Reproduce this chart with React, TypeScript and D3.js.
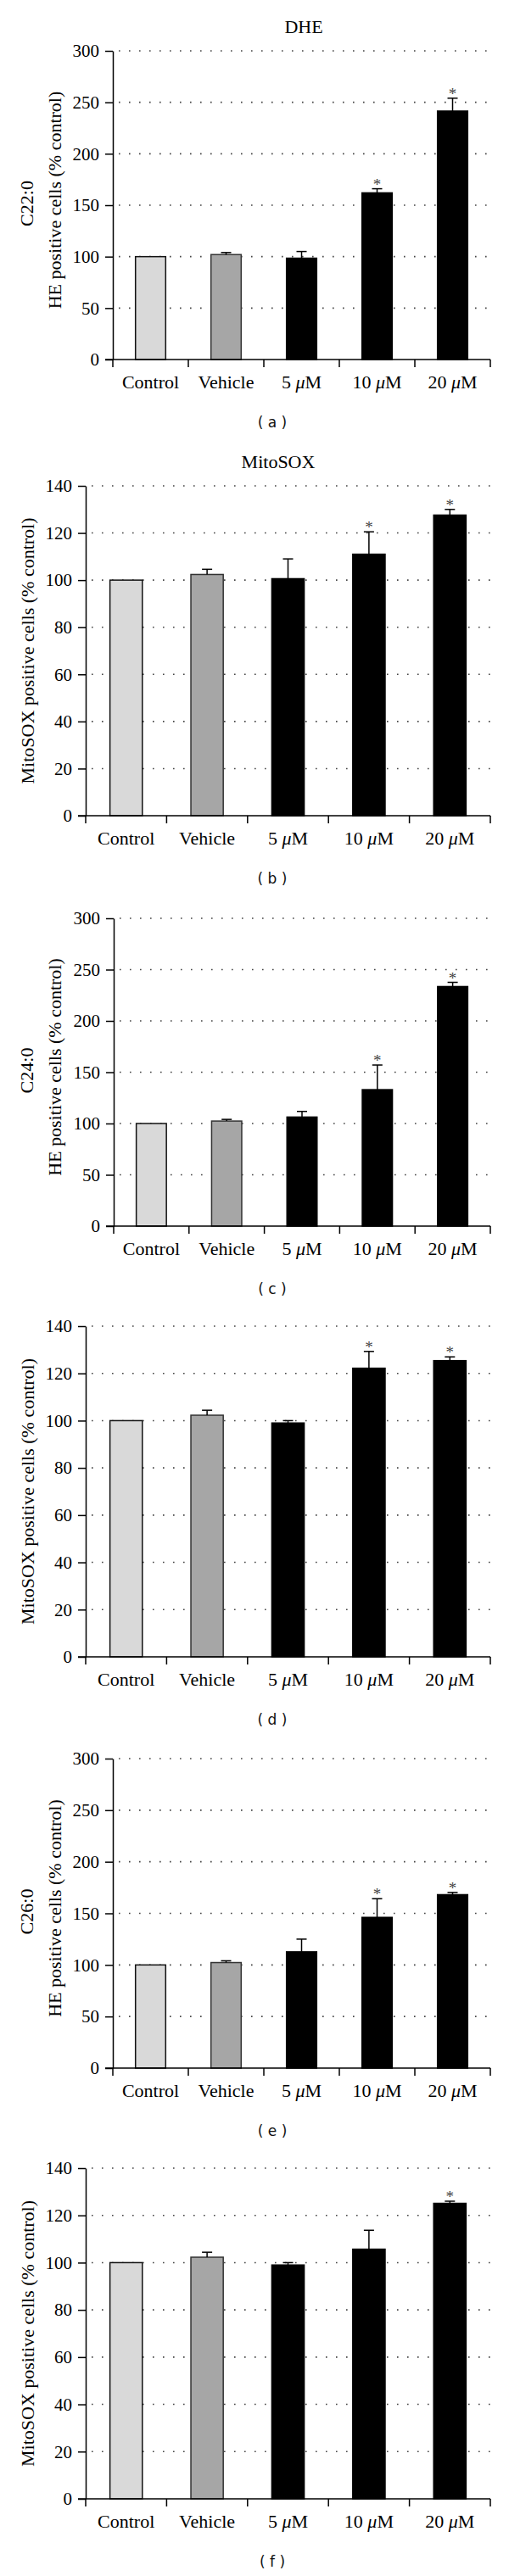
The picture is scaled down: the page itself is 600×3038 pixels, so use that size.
import React, { useEffect, useRef } from 'react';
import * as d3 from 'd3';

const categories = ['Control', 'Vehicle', '5 μM', '10 μM', '20 μM'];
const dheTicks = [0, 50, 100, 150, 200, 250, 300];
const mitoTicks = [0, 20, 40, 60, 80, 100, 120, 140];

const c22DheMean = [100, 102, 98.5, 162, 241.5];
const c22DheErr = [0, 2, 6.5, 4, 12.5];
const c22DheSig = [false, false, false, true, true];

const c22MitoMean = [100, 102.4, 100.6, 111, 127.6];
const c22MitoErr = [0, 2.2, 8.4, 9.5, 2.4];
const c22MitoSig = [false, false, false, true, true];

const c24DheMean = [100, 102.4, 106.3, 133, 233.5];
const c24DheErr = [0, 1.6, 5.5, 24, 4.1];
const c24DheSig = [false, false, false, true, true];

const c24MitoMean = [100, 102.3, 99, 122.2, 125.4];
const c24MitoErr = [0, 2.1, 1, 7.1, 1.6];
const c24MitoSig = [false, false, false, true, true];

const c26DheMean = [100, 102.3, 112.7, 146.1, 168.1];
const c26DheErr = [0, 1.7, 12.3, 18.1, 2.2];
const c26DheSig = [false, false, false, true, true];

const c26MitoMean = [100, 102.3, 99, 105.7, 125.1];
const c26MitoErr = [0, 2.1, 1, 8, 0.9];
const c26MitoSig = [false, false, false, false, true];

const barFills = ['#d9d9d9', '#a6a6a6', '#000000', '#000000', '#000000'];
const barStrokes = ['#111111', '#333333', '#000000', '#000000', '#000000'];

const panels = [
  { mean: c22DheMean, err: c22DheErr, sig: c22DheSig, ticks: dheTicks, top: 60, zero: 424, x0: 133, title: 'DHE', letter: '( a )', ylab: ['C22:0', 'HE positive cells (% control)'] },
  { mean: c22MitoMean, err: c22MitoErr, sig: c22MitoSig, ticks: mitoTicks, top: 573, zero: 962, x0: 101, title: 'MitoSOX', letter: '( b )', ylab: ['MitoSOX positive cells (% control)'] },
  { mean: c24DheMean, err: c24DheErr, sig: c24DheSig, ticks: dheTicks, top: 1083, zero: 1446, x0: 134, title: '', letter: '( c )', ylab: ['C24:0', 'HE positive cells (% control)'] },
  { mean: c24MitoMean, err: c24MitoErr, sig: c24MitoSig, ticks: mitoTicks, top: 1564, zero: 1954, x0: 101, title: '', letter: '( d )', ylab: ['MitoSOX positive cells (% control)'] },
  { mean: c26DheMean, err: c26DheErr, sig: c26DheSig, ticks: dheTicks, top: 2074, zero: 2439, x0: 133, title: '', letter: '( e )', ylab: ['C26:0', 'HE positive cells (% control)'] },
  { mean: c26MitoMean, err: c26MitoErr, sig: c26MitoSig, ticks: mitoTicks, top: 2557, zero: 2947, x0: 101, title: '', letter: '( f )', ylab: ['MitoSOX positive cells (% control)'] },
];

const SERIF = '"Liberation Serif", "Times New Roman", serif';
const SANS = '"DejaVu Sans", Verdana, sans-serif';
const X1 = 578;

export default function App() {
  const ref = useRef<SVGSVGElement | null>(null);

  useEffect(() => {
    const svg = d3.select(ref.current);
    svg.selectAll('*').remove();

    panels.forEach((p) => {
      const g = svg.append('g');
      const yMax = p.ticks[p.ticks.length - 1];
      const y = d3.scaleLinear().domain([0, yMax]).range([p.zero, p.top]);
      const x = d3.scaleBand<string>().domain(categories).range([p.x0, X1]).paddingInner(0.6).paddingOuter(0.3);
      const bw = x.bandwidth();
      const step = x.step();

      // dotted grid
      g.selectAll('line.grid')
        .data(p.ticks.filter((t) => t > 0))
        .enter()
        .append('line')
        .attr('x1', p.x0 + 7)
        .attr('x2', X1)
        .attr('y1', (d) => y(d))
        .attr('y2', (d) => y(d))
        .attr('stroke', '#444')
        .attr('stroke-width', 1.6)
        .attr('stroke-dasharray', '1.6 10.4');

      const data = categories.map((c, i) => ({ c, i, m: p.mean[i], e: p.err[i], s: p.sig[i] }));

      // bars
      g.selectAll('rect.bar')
        .data(data)
        .enter()
        .append('rect')
        .attr('x', (d) => x(d.c)!)
        .attr('y', (d) => y(d.m))
        .attr('width', bw)
        .attr('height', (d) => y(0) - y(d.m))
        .attr('fill', (d) => barFills[d.i])
        .attr('stroke', (d) => barStrokes[d.i])
        .attr('stroke-width', 1.5);

      // error bars
      const eb = g.selectAll('g.err').data(data.filter((d) => d.e > 0)).enter().append('g');
      eb.append('line')
        .attr('x1', (d) => x(d.c)! + bw / 2)
        .attr('x2', (d) => x(d.c)! + bw / 2)
        .attr('y1', (d) => y(d.m))
        .attr('y2', (d) => y(d.m + d.e))
        .attr('stroke', '#000')
        .attr('stroke-width', 1.5);
      eb.append('line')
        .attr('x1', (d) => x(d.c)! + bw / 2 - 6)
        .attr('x2', (d) => x(d.c)! + bw / 2 + 6)
        .attr('y1', (d) => y(d.m + d.e))
        .attr('y2', (d) => y(d.m + d.e))
        .attr('stroke', '#000')
        .attr('stroke-width', 1.5);

      // asterisks
      g.selectAll('text.ast')
        .data(data.filter((d) => d.s))
        .enter()
        .append('text')
        .attr('x', (d) => x(d.c)! + bw / 2)
        .attr('y', (d) => y(d.m + d.e) + 1)
        .attr('text-anchor', 'middle')
        .attr('font-family', SERIF)
        .attr('font-size', 19)
        .attr('fill', '#444')
        .text('*');

      // y axis
      const ya = g.append('g')
        .attr('transform', `translate(${p.x0},0)`)
        .call(d3.axisLeft(y).tickValues(p.ticks).tickSize(9).tickSizeOuter(0).tickPadding(7).tickFormat(d3.format('d')));
      ya.select('.domain').attr('stroke', '#000').attr('stroke-width', 1.5);
      ya.selectAll('.tick line').attr('stroke', '#000').attr('stroke-width', 1.5);
      ya.selectAll('.tick text').attr('font-family', SERIF).attr('font-size', 21).attr('fill', '#000');

      // x axis
      g.append('line')
        .attr('x1', p.x0 - 9)
        .attr('x2', X1)
        .attr('y1', y(0))
        .attr('y2', y(0))
        .attr('stroke', '#000')
        .attr('stroke-width', 1.5);
      g.selectAll('line.xt')
        .data(d3.range(categories.length + 1))
        .enter()
        .append('line')
        .attr('x1', (i) => p.x0 + i * step)
        .attr('x2', (i) => p.x0 + i * step)
        .attr('y1', y(0))
        .attr('y2', y(0) + 9)
        .attr('stroke', '#000')
        .attr('stroke-width', 1.5);

      const xl = g.selectAll('text.xl')
        .data(data)
        .enter()
        .append('text')
        .attr('x', (d) => x(d.c)! + bw / 2)
        .attr('y', y(0) + 34)
        .attr('text-anchor', 'middle')
        .attr('font-family', SERIF)
        .attr('font-size', 22)
        .attr('fill', '#000');
      xl.each(function (d) {
        const t = d3.select(this);
        const parts = d.c.split('μ');
        if (parts.length === 2) {
          t.append('tspan').text(parts[0]);
          t.append('tspan').attr('font-style', 'italic').text('μ');
          t.append('tspan').text(parts[1]);
        } else {
          t.text(d.c);
        }
      });

      // y label
      const cy = (p.top + p.zero) / 2;
      if (p.ylab.length === 2) {
        g.append('text')
          .attr('transform', `translate(31,${cy - 2}) rotate(-90)`)
          .attr('text-anchor', 'middle')
          .attr('dy', '0.35em')
          .attr('font-family', SERIF)
          .attr('font-size', 22)
          .text(p.ylab[0]);
        g.append('text')
          .attr('transform', `translate(64,${cy - 6}) rotate(-90)`)
          .attr('text-anchor', 'middle')
          .attr('dy', '0.35em')
          .attr('font-family', SERIF)
          .attr('font-size', 22)
          .text(p.ylab[1]);
      } else {
        g.append('text')
          .attr('transform', `translate(32,${cy}) rotate(-90)`)
          .attr('text-anchor', 'middle')
          .attr('dy', '0.35em')
          .attr('font-family', SERIF)
          .attr('font-size', 22)
          .text(p.ylab[0]);
      }

      // title
      if (p.title) {
        g.append('text')
          .attr('x', p.x0 === 133 ? 358 : 328)
          .attr('y', p.top - 21)
          .attr('text-anchor', 'middle')
          .attr('font-family', SERIF)
          .attr('font-size', 22)
          .text(p.title);
      }

      // panel letter
      g.append('text')
        .attr('x', 321)
        .attr('y', p.zero + 80)
        .attr('text-anchor', 'middle')
        .attr('font-family', SANS)
        .attr('font-size', 17)
        .attr('fill', '#111')
        .text(p.letter);
    });
  }, []);

  return (
    <svg
      ref={ref}
      width={600}
      height={3038}
      style={{ position: 'absolute', left: 0, top: 0, background: '#fff', display: 'block' }}
    />
  );
}
